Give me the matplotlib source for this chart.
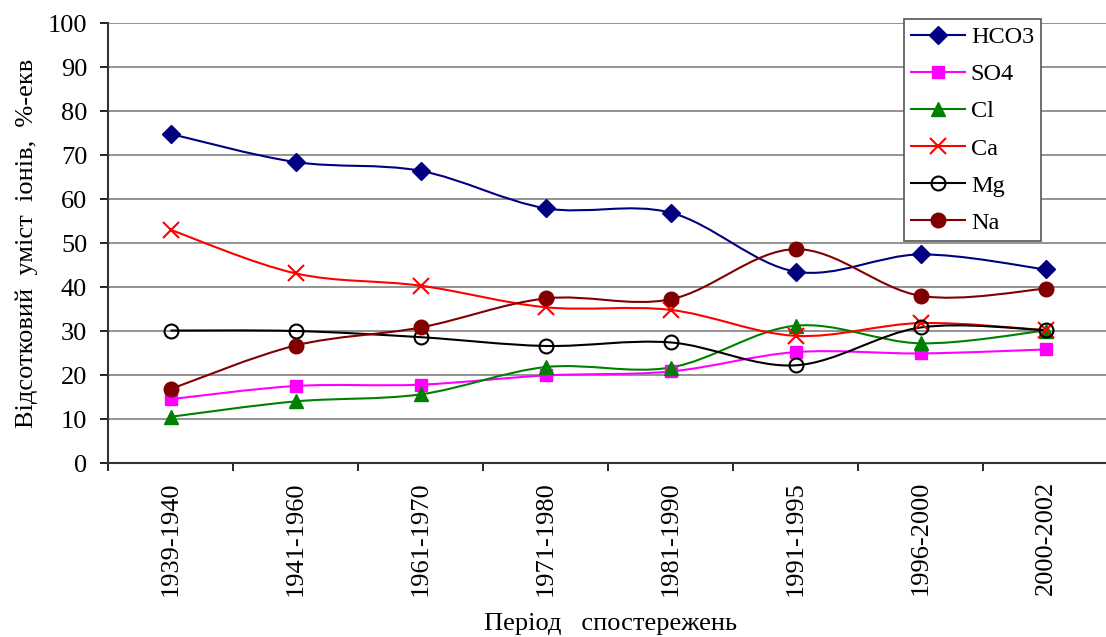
import numpy as np
import matplotlib.pyplot as plt
from matplotlib.path import Path
from matplotlib.patches import PathPatch
from matplotlib.lines import Line2D
from matplotlib.ticker import FixedLocator, NullFormatter

plt.rcParams.update({
    "font.family": "Liberation Serif",
    "font.size": 19,
})

periods = ["1939-1940", "1941-1960", "1961-1970", "1971-1980",
           "1981-1990", "1991-1995", "1996-2000", "2000-2002"]

hco3 = [74.8, 68.4, 66.4, 57.9, 56.9, 43.5, 47.4, 44.0]
so4 = [14.5, 17.5, 17.8, 19.9, 20.8, 25.2, 24.9, 25.8]
cl = [10.5, 14.0, 15.6, 21.8, 21.7, 31.2, 27.2, 30.1]
ca = [53.0, 43.1, 40.3, 35.4, 34.8, 28.9, 31.8, 30.2]
mg = [30.1, 30.0, 28.6, 26.6, 27.4, 22.2, 30.8, 30.2]
na = [16.8, 26.7, 30.8, 37.4, 37.2, 48.6, 38.0, 39.6]

series = [
    ("HCO3", hco3, "#000080", dict(marker="D", ms=9, mfc="#000080", mec="#000080")),
    ("SO4", so4, "#FF00FF", dict(marker="s", ms=8, mfc="#FF00FF", mec="#FF00FF")),
    ("Cl", cl, "#008000", dict(marker="^", ms=10, mfc="#008000", mec="#008000")),
    ("Ca", ca, "#FF0000", dict(marker="x", ms=12, mew=1.5, mec="#FF0000")),
    ("Mg", mg, "#000000", dict(marker="o", ms=10, mew=1.5, mfc="none", mec="#000000")),
    ("Na", na, "#800000", dict(marker="o", ms=10.5, mfc="#800000", mec="#800000")),
]


def smooth_path(x, y):
    # cubic Bezier segments through the points (Catmull-Rom style control points)
    pts = np.column_stack([x, y]).astype(float)
    ext = np.vstack([pts[0], pts, pts[-1]])
    verts = [pts[0]]
    codes = [Path.MOVETO]
    for i in range(len(pts) - 1):
        p0, p1, p2, p3 = ext[i], ext[i + 1], ext[i + 2], ext[i + 3]
        c1 = p1 + (p2 - p0) / 6.0
        c2 = p2 - (p3 - p1) / 6.0
        verts += [c1, c2, p2]
        codes += [Path.CURVE4] * 3
    return Path(verts, codes)


W, H = 1106, 637
fig = plt.figure(figsize=(W / 100, H / 100), dpi=100)
ax = fig.add_axes([108 / W, 1 - 463 / H, 1000 / W, 440 / H])

xpos = np.arange(len(periods)) + 0.5

ax.set_axisbelow(True)
ax.yaxis.grid(True, color="#808080", lw=1.2)

handles = []
for name, vals, color, mk in series:
    ax.add_patch(PathPatch(smooth_path(xpos, vals), fill=False,
                           edgecolor=color, lw=1.5, zorder=3))
    ax.plot(xpos, vals, ls="none", zorder=4, clip_on=False, **mk)
    handles.append(Line2D([], [], color=color, lw=1.5, label=name, **mk))

ax.set_xlim(0, len(periods))
ax.set_ylim(0, 100)
ax.set_yticks(np.arange(0, 101, 10))
ax.set_xticks(xpos)
ax.set_xticklabels(periods, rotation=90)
ax.xaxis.set_minor_locator(FixedLocator(np.arange(0, len(periods) + 1)))
ax.xaxis.set_minor_formatter(NullFormatter())
ax.tick_params(axis="x", which="major", length=0, pad=13)
ax.tick_params(axis="x", which="minor", length=6, width=1.2, direction="out")
ax.tick_params(axis="y", length=6, width=1.2, direction="out", pad=9)

for side in ("top", "right"):
    ax.spines[side].set_visible(False)
for side in ("left", "bottom"):
    ax.spines[side].set_linewidth(1.5)
    ax.spines[side].set_color("#333333")

ax.set_ylabel("Відсотковий  уміст  іонів,  %-екв", labelpad=7)
fig.text(610 / W, 1 - 624 / H, "Період   спостережень", ha="center", va="center")

leg = fig.legend(handles=handles, loc="upper left",
                 bbox_to_anchor=(904 / W, 1 - 19 / H), bbox_transform=fig.transFigure,
                 borderaxespad=0, fontsize=17.5, frameon=True, fancybox=False,
                 edgecolor="#555555", framealpha=1, handlelength=2.2,
                 labelspacing=0.62, borderpad=0.3, handletextpad=0.25)
leg.get_frame().set_linewidth(1.2)

fig.savefig("out.png", dpi=100)
